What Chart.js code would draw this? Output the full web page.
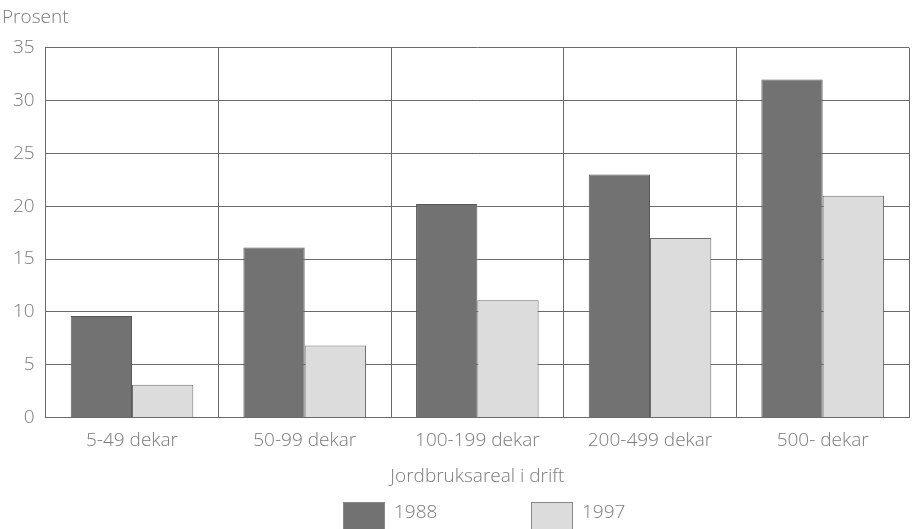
<!DOCTYPE html>
<html>
<head>
<meta charset="utf-8">
<script src="https://cdn.jsdelivr.net/npm/chart.js@4/dist/chart.umd.min.js"></script>
<style>
  body { margin: 0; background: #fff; }
  #wrap { position: relative; width: 913px; height: 529px; overflow: hidden; }
  #legend { position: absolute; left: 343px; top: 502px; display: flex;
            font-family: 'Open Sans', 'Noto Sans', sans-serif; font-weight: 300;
            font-size: 19px; color: #7a7a7a; }
  .item { display: flex; align-items: flex-start; width: 188px; }
  .swatch { width: 42px; height: 28px; box-sizing: border-box; border: 1px solid #888; margin-right: 9px; }
  .item span { line-height: 20px; margin-top: -1px; }
</style>
</head>
<body>
<div id="wrap">
  <canvas id="areaChart" width="913" height="529"></canvas>
  <div id="legend"></div>
</div>
<script>
const categories = ['5-49 dekar', '50-99 dekar', '100-199 dekar', '200-499 dekar', '500- dekar'];
const values1988 = [9.6, 16.1, 20.2, 23.0, 32.0];
const values1997 = [3.1, 6.8, 11.1, 17.0, 21.0];
const yTicks = [0, 5, 10, 15, 20, 25, 30, 35];

const fontFamily = "'Open Sans', 'Noto Sans', sans-serif";
const textColor = '#7a7a7a';
const tickFont = { family: fontFamily, size: 19, weight: '300' };

const ctx = document.getElementById('areaChart').getContext('2d');

const chart = new Chart(ctx, {
    type: 'bar',
    data: {
        labels: categories,
        datasets: [
            {
                label: '1988',
                data: values1988,
                backgroundColor: '#727272',
                borderColor: '#5a5a5a',
                borderWidth: 1,
                barPercentage: 1,
                categoryPercentage: 0.71
            },
            {
                label: '1997',
                data: values1997,
                backgroundColor: '#dcdcdc',
                borderColor: '#6e6e6e',
                borderWidth: 1,
                barPercentage: 1,
                categoryPercentage: 0.71
            }
        ]
    },
    options: {
        responsive: false,
        animation: false,
        layout: { padding: { left: 2, right: 4, top: 0, bottom: 41 } },
        plugins: {
            title: {
                display: true,
                text: 'Prosent',
                align: 'start',
                color: textColor,
                font: { family: fontFamily, size: 19, weight: '300' },
                padding: { top: 6, bottom: 19 }
            },
            legend: { display: false },
            tooltip: { enabled: false }
        },
        scales: {
            x: {
                grid: { color: '#6a6a6a', lineWidth: 1, offset: true, drawTicks: false },
                border: { color: '#6a6a6a' },
                ticks: { color: textColor, font: tickFont, padding: 12 },
                title: {
                    display: true,
                    text: 'Jordbruksareal i drift',
                    color: textColor,
                    font: tickFont,
                    padding: { top: 1, bottom: 0 }
                }
            },
            y: {
                min: 0,
                max: 35,
                afterBuildTicks: (axis) => {
                    axis.ticks = yTicks.map(v => ({ value: v }));
                },
                grid: { color: '#6a6a6a', lineWidth: 1, drawTicks: false },
                border: { color: '#6a6a6a' },
                ticks: { color: textColor, font: tickFont, padding: 11 }
            }
        }
    }
});

// html legend built from the datasets
const legendBox = document.getElementById('legend');
chart.data.datasets.forEach(ds => {
    const item = document.createElement('div');
    item.className = 'item';
    const sw = document.createElement('div');
    sw.className = 'swatch';
    sw.style.background = ds.backgroundColor;
    const txt = document.createElement('span');
    txt.textContent = ds.label;
    item.appendChild(sw);
    item.appendChild(txt);
    legendBox.appendChild(item);
});
</script>
</body>
</html>
